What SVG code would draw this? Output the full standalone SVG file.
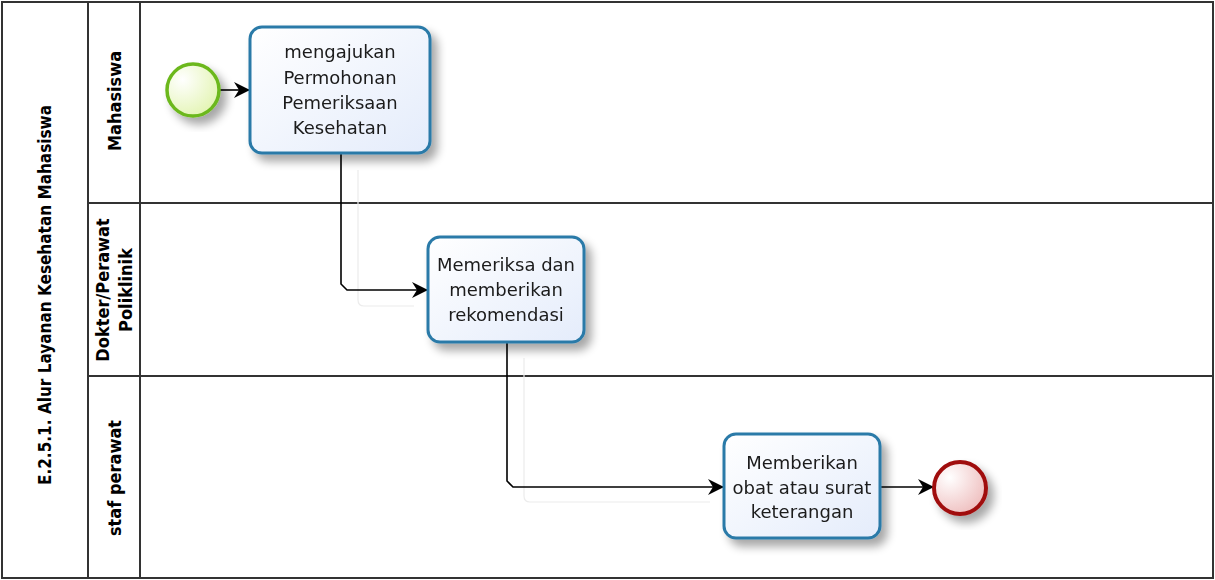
<svg xmlns="http://www.w3.org/2000/svg" width="1215" height="580" viewBox="0 0 1215 580">
  <defs>
    <style>
      .frame { fill: none; stroke: #333; stroke-width: 2; }
      .header { font-family: "DejaVu Sans Condensed", "DejaVu Sans", sans-serif; font-weight: bold; font-size: 17px; fill: #000; text-anchor: middle; }
      .lane { font-size: 18px; }
      .task { fill: url(#taskFill); stroke: #2a7aa8; stroke-width: 3; }
      .label { font-family: "DejaVu Sans", sans-serif; font-size: 18px; fill: #1a1a1a; text-anchor: middle; }
      .flow { fill: none; stroke: #000; stroke-width: 1.6; }
      .flowShadow { fill: none; stroke: #ececec; stroke-width: 1.2; }
    </style>
    <linearGradient id="taskFill" x1="0" y1="0" x2="1" y2="1">
      <stop offset="0" stop-color="#ffffff"/>
      <stop offset="1" stop-color="#e4ecfb"/>
    </linearGradient>
    <radialGradient id="startFill" cx="0.3" cy="0.3" r="0.8">
      <stop offset="0" stop-color="#ffffff"/>
      <stop offset="1" stop-color="#e2f4b0"/>
    </radialGradient>
    <radialGradient id="endFill" cx="0.3" cy="0.3" r="0.8">
      <stop offset="0" stop-color="#ffffff"/>
      <stop offset="1" stop-color="#eebcbc"/>
    </radialGradient>
    <filter id="shadow" x="-20%" y="-20%" width="150%" height="150%">
      <feGaussianBlur in="SourceAlpha" stdDeviation="5"/>
      <feOffset dx="6" dy="7" result="b"/>
      <feComponentTransfer><feFuncA type="linear" slope="0.35"/></feComponentTransfer>
      <feMerge><feMergeNode/><feMergeNode in="SourceGraphic"/></feMerge>
    </filter>
    <marker id="arrow" viewBox="0 0 16 16" refX="15" refY="8" markerWidth="16" markerHeight="16" markerUnits="userSpaceOnUse" orient="auto">
      <path d="M0,0 L16,8 L0,16 L5,8 Z" fill="#000"/>
    </marker>
  </defs>

  <rect width="1215" height="580" fill="#fff"/>

  <!-- pool and lanes -->
  <g id="pool">
    <rect x="2" y="2" width="1211" height="576" class="frame"/>
    <line x1="88" y1="2" x2="88" y2="578" class="frame"/>
    <line x1="140" y1="2" x2="140" y2="578" class="frame"/>
    <line x1="88" y1="203" x2="1213" y2="203" class="frame"/>
    <line x1="88" y1="376" x2="1213" y2="376" class="frame"/>
    <text class="header" transform="translate(51,295) rotate(-90)">E.2.5.1. Alur Layanan Kesehatan Mahasiswa</text>
  </g>
  <g id="lane-mahasiswa">
    <text class="header lane" transform="translate(121,101) rotate(-90)">Mahasiswa</text>
  </g>
  <g id="lane-dokter">
    <text class="header lane" transform="translate(109,290) rotate(-90)">Dokter/Perawat</text>
    <text class="header lane" transform="translate(132,290) rotate(-90)">Poliklinik</text>
  </g>
  <g id="lane-staf">
    <text class="header lane" transform="translate(121,478) rotate(-90)">staf perawat</text>
  </g>

  <!-- sequence flows -->
  <g id="connectors">
    <path class="flowShadow" d="M358,170 V300 Q358,306 364,306 H414"/>
    <path class="flowShadow" d="M524,358 V496 Q524,502 530,502 H710"/>
    <path class="flow" d="M219,90 H249" marker-end="url(#arrow)"/>
    <path class="flow" d="M341,153 V284 L347,290 H427" marker-end="url(#arrow)"/>
    <path class="flow" d="M507,342 V481 L513,487 H723" marker-end="url(#arrow)"/>
    <path class="flow" d="M881,487 H933" marker-end="url(#arrow)"/>
  </g>

  <g id="start" filter="url(#shadow)">
    <circle cx="193" cy="90" r="26" fill="url(#startFill)" stroke="#6cb81f" stroke-width="3.5"/>
  </g>

  <g id="task-ajukan" filter="url(#shadow)">
    <rect class="task" x="250" y="27" width="180" height="126" rx="12"/>
    <text class="label" x="340" y="58">mengajukan</text>
    <text class="label" x="340" y="84">Permohonan</text>
    <text class="label" x="340" y="109">Pemeriksaan</text>
    <text class="label" x="340" y="134">Kesehatan</text>
  </g>

  <g id="task-periksa" filter="url(#shadow)">
    <rect class="task" x="428" y="237" width="156" height="105" rx="12"/>
    <text class="label" x="506" y="271">Memeriksa dan</text>
    <text class="label" x="506" y="296">memberikan</text>
    <text class="label" x="506" y="321">rekomendasi</text>
  </g>

  <g id="task-obat" filter="url(#shadow)">
    <rect class="task" x="724" y="434" width="156" height="104" rx="12"/>
    <text class="label" x="802" y="469">Memberikan</text>
    <text class="label" x="802" y="494">obat atau surat</text>
    <text class="label" x="802" y="518">keterangan</text>
  </g>

  <g id="end" filter="url(#shadow)">
    <circle cx="960" cy="488" r="26" fill="url(#endFill)" stroke="#a01010" stroke-width="4"/>
  </g>
</svg>
